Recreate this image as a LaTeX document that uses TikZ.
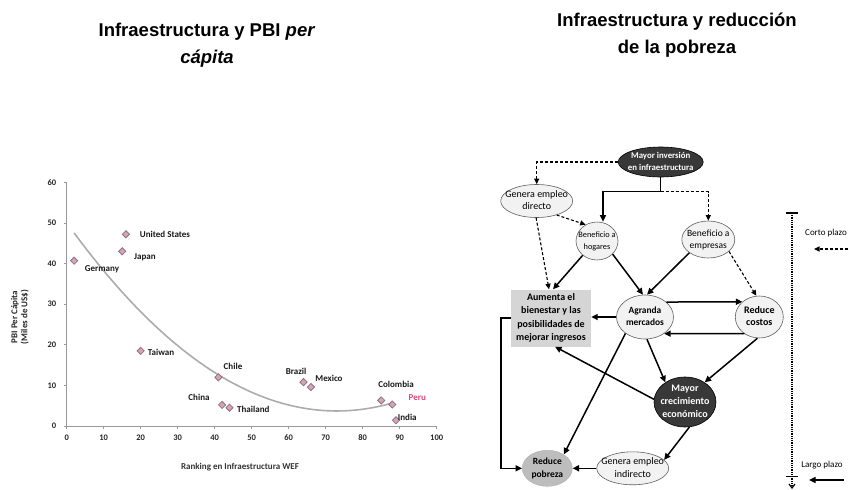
\documentclass[tikz,border=0pt]{standalone}
\usepackage{fontspec}
\setmainfont{Carlito}
\newfontfamily\titlefont{Liberation Sans}
\usetikzlibrary{shapes.geometric,arrows.meta}

% text block centred on a node without enlarging its shape
\newcommand{\ovt}[1]{\makebox[0pt]{\smash{\raisebox{-0.25em}{\begin{tabular}{@{}c@{}}#1\end{tabular}}}}}

\definecolor{dotfill}{HTML}{D9A3B3}
\definecolor{dotdraw}{HTML}{8A7585}
\definecolor{perupink}{HTML}{E0457B}
\definecolor{darknode}{HTML}{383838}
\definecolor{lightnode}{HTML}{F2F2F2}
\definecolor{boxgray}{HTML}{D5D5D5}
\definecolor{poorgray}{HTML}{BDBDBD}

\tikzset{
  titlef/.style={align=center, font=\titlefont\bfseries\fontsize{18.5}{27.3}\selectfont},
  axisline/.style={draw=gray!80, line width=0.6pt},
  tick/.style={font=\bfseries\fontsize{8.5}{10}\selectfont, text=black!85},
  clab/.style={font=\bfseries\fontsize{9}{11}\selectfont, text=black!90, inner sep=0pt},
  dot/.style={diamond, draw=dotdraw, fill=dotfill, line width=0.8pt, inner sep=0pt, minimum size=7.5pt},
  trend/.style={draw=gray!65, line width=1.6pt},
  lightov/.style={ellipse, draw=gray!75!black, line width=0.6pt, fill=lightnode, inner sep=0pt},
  darkov/.style={ellipse, draw=black, line width=0.6pt, fill=darknode, text=white, inner sep=0pt},
  arr/.style={-{Triangle[length=6.5pt,width=6pt]}, line width=1.5pt},
  darr/.style={-{Triangle[length=5.5pt,width=5pt]}, line width=1.1pt, dash pattern=on 3pt off 2pt},
  tline/.style={line width=1.2pt, dash pattern=on 1pt off 0.8pt},
  plazo/.style={font=\fontsize{9}{11}\selectfont, inner sep=0pt},
}

\begin{document}
\begin{tikzpicture}[x=1pt,y=-1pt]
\useasboundingbox (0,0) rectangle (849,490);

% ---------- titles ----------
\node[titlef] (title-l) at (207,45.4) {Infraestructura y PBI \textit{per}\\\textit{cápita}};
\node[titlef] (title-r) at (677,35.4) {Infraestructura y reducción\\de la pobreza};

% ---------- scatter chart ----------
\begin{scope}[shift={(66.7pt,-426pt)}, x=3.7pt, y=4.062pt]
  \draw[axisline] (0,0) -- (100,0);
  \draw[axisline] (0,0) -- (0,60);
  \foreach \t in {0,10,...,100} {
    \draw[axisline] (\t,0) -- ++(0pt,-3pt);
    \node[tick] (xt\t) at (\t,-2.95) {\t};
  }
  \foreach \v in {0,10,...,60} {
    \draw[axisline] (0,\v) -- ++(-3pt,0pt);
    \node[tick, anchor=east] (yt\v) at (-1.9,\v) {\v};
  }
  \draw[trend] plot[domain=2:88, samples=45, smooth] (\x,{0.00869*(\x-73)^2+3.7});
  \foreach \n/\a/\b in {ger/2/40.7, usa/16/47.2, jpn/15/43, twn/20/18.5,
                        chl/41/12, chn/42/5.2, tha/44/4.5, bra/64/10.8,
                        mex/66/9.6, col/85/6.3, per/88/5.3, ind/89/1.4}
    \node[dot] (p-\n) at (\a,\b) {};
\end{scope}

\node[clab] (l-usa) at (165,234.3) {United States};
\node[clab] (l-jpn) at (145,257) {Japan};
\node[clab] (l-ger) at (102,269.3) {Germany};
\node[clab] (l-twn) at (161,352) {Taiwan};
\node[clab] (l-chl) at (233,366.7) {Chile};
\node[clab] (l-chn) at (199,397.7) {China};
\node[clab] (l-tha) at (253.3,409.3) {Thailand};
\node[clab] (l-bra) at (296,371) {Brazil};
\node[clab] (l-mex) at (329,378) {Mexico};
\node[clab] (l-col) at (396,384.3) {Colombia};
\node[clab, text=perupink] (l-per) at (417.3,397.7) {Peru};
\node[clab] (l-ind) at (407.3,417) {India};

\node[font=\bfseries\fontsize{9}{11}\selectfont, text=black!80] (xlab) at (240,467.3) {Ranking en Infraestructura WEF};
\node[font=\bfseries\fontsize{9}{10}\selectfont, text=black!85, align=center, rotate=90] (ylab) at (20,317) {PBI Per Cápita\\(Miles de US\$)};

% ---------- flow diagram ----------
\node[darkov, minimum width=85pt, minimum height=30pt, font=\bfseries\fontsize{8.8}{12}\selectfont]
  (inv) at (660.7,162) {\ovt{Mayor inversión\\en infraestructura}};
\node[lightov, minimum width=72pt, minimum height=33pt, font=\fontsize{10}{12}\selectfont]
  (ged) at (536.7,201) {\ovt{Genera empleo\\directo}};
\node[lightov, minimum width=42pt, minimum height=38pt, font=\fontsize{8.3}{11.5}\selectfont]
  (hog) at (597,241) {\ovt{Beneficio a\\hogares}};
\node[lightov, minimum width=53pt, minimum height=37pt, font=\fontsize{9.5}{12}\selectfont]
  (emp) at (708.3,239.5) {\ovt{Beneficio a\\empresas}};
\node[rectangle, fill=boxgray, minimum width=80pt, minimum height=57pt, inner sep=0pt,
      align=center, font=\bfseries\fontsize{10}{13.5}\selectfont]
  (aum) at (551,318) {Aumenta el\\bienestar y las\\posibilidades de\\mejorar ingresos};
\node[lightov, minimum width=57pt, minimum height=44pt, font=\bfseries\fontsize{9.4}{12.5}\selectfont]
  (agr) at (645,317) {\ovt{Agranda\\mercados}};
\node[lightov, minimum width=48pt, minimum height=42pt, font=\bfseries\fontsize{10}{12.5}\selectfont]
  (cos) at (759.3,317) {\ovt{Reduce\\costos}};
\node[darkov, minimum width=62pt, minimum height=50pt, font=\bfseries\fontsize{10}{13}\selectfont]
  (cre) at (685,402) {\ovt{Mayor\\crecimiento\\económico}};
\node[ellipse, draw=gray!60, line width=0.5pt, fill=poorgray, inner sep=0pt, minimum width=50pt,
      minimum height=36pt, font=\bfseries\fontsize{9.5}{12.5}\selectfont]
  (pob) at (547.3,468.3) {\ovt{Reduce\\pobreza}};
\node[lightov, minimum width=72pt, minimum height=33pt, font=\fontsize{10}{12.5}\selectfont]
  (gei) at (632.7,468.3) {\ovt{Genera empleo\\indirecto}};

\coordinate (split) at (660.7,191.7);

\draw[darr] (inv.west) -| (ged.north);
\draw[line width=1.5pt] (inv.south) -- (split);
\draw[arr] (split) -| ([xshift=6pt]hog.north);
\draw[darr] (split) -| (emp.north);
\draw[darr] (ged.-35) -- (hog.125);
\draw[darr] (ged.-92) -- ([xshift=-2pt]aum.north);
\draw[arr] (hog.-135) -- ([xshift=2pt]aum.north);
\draw[arr] (hog.-40) -- ([xshift=-2pt]agr.north);
\draw[arr] (emp.-145) -- ([xshift=2pt]agr.north);
\draw[darr] (emp.-30) -- ([xshift=-3pt]cos.north);
\draw[arr] (agr.35.8) -- (cos.138.2);
\draw[arr] (cos.228.5) -- (agr.-41.6);
\draw[arr] (agr.west) -- (agr.west -| aum.east);
\draw[arr] (agr.-85) -- (cre.135);
\draw[arr] (cos.-95) -- (cre.45);
\draw[arr] (cre.175) -- ([xshift=4pt]aum.south);
\draw[arr] (agr.-140) -- (pob.40);
\draw[arr] (cre.-80) -- (gei.15);
\draw[arr] (gei.west) -- (pob.east);
\draw[arr] (aum.west) -- ++(-10,0) |- (pob.west);

% ---------- time scale ----------
\coordinate (tl-top) at (792,213);
\coordinate (tl-lp) at (792,476);
\coordinate (tl-bot) at (792,489);
\draw[tline, -{Straight Barb[length=4pt,width=6pt]}] (tl-top) -- (tl-bot);
\draw[line width=1.2pt] ([xshift=-6pt]tl-top) -- ([xshift=6pt]tl-top);
\draw[line width=1pt] ([xshift=-6pt]tl-lp) -- ([xshift=6pt]tl-lp);

\node[plazo] (cp) at (826,232.7) {Corto plazo};
\coordinate (cp-a) at (848,249);
\coordinate (cp-b) at (814,249);
\draw[darr] (cp-a) -- (cp-b);

\node[plazo] (lp) at (822,465) {Largo plazo};
\coordinate (lp-a) at (844,480);
\coordinate (lp-b) at (809,480);
\draw[arr] (lp-a) -- (lp-b);
\end{tikzpicture}
\end{document}
